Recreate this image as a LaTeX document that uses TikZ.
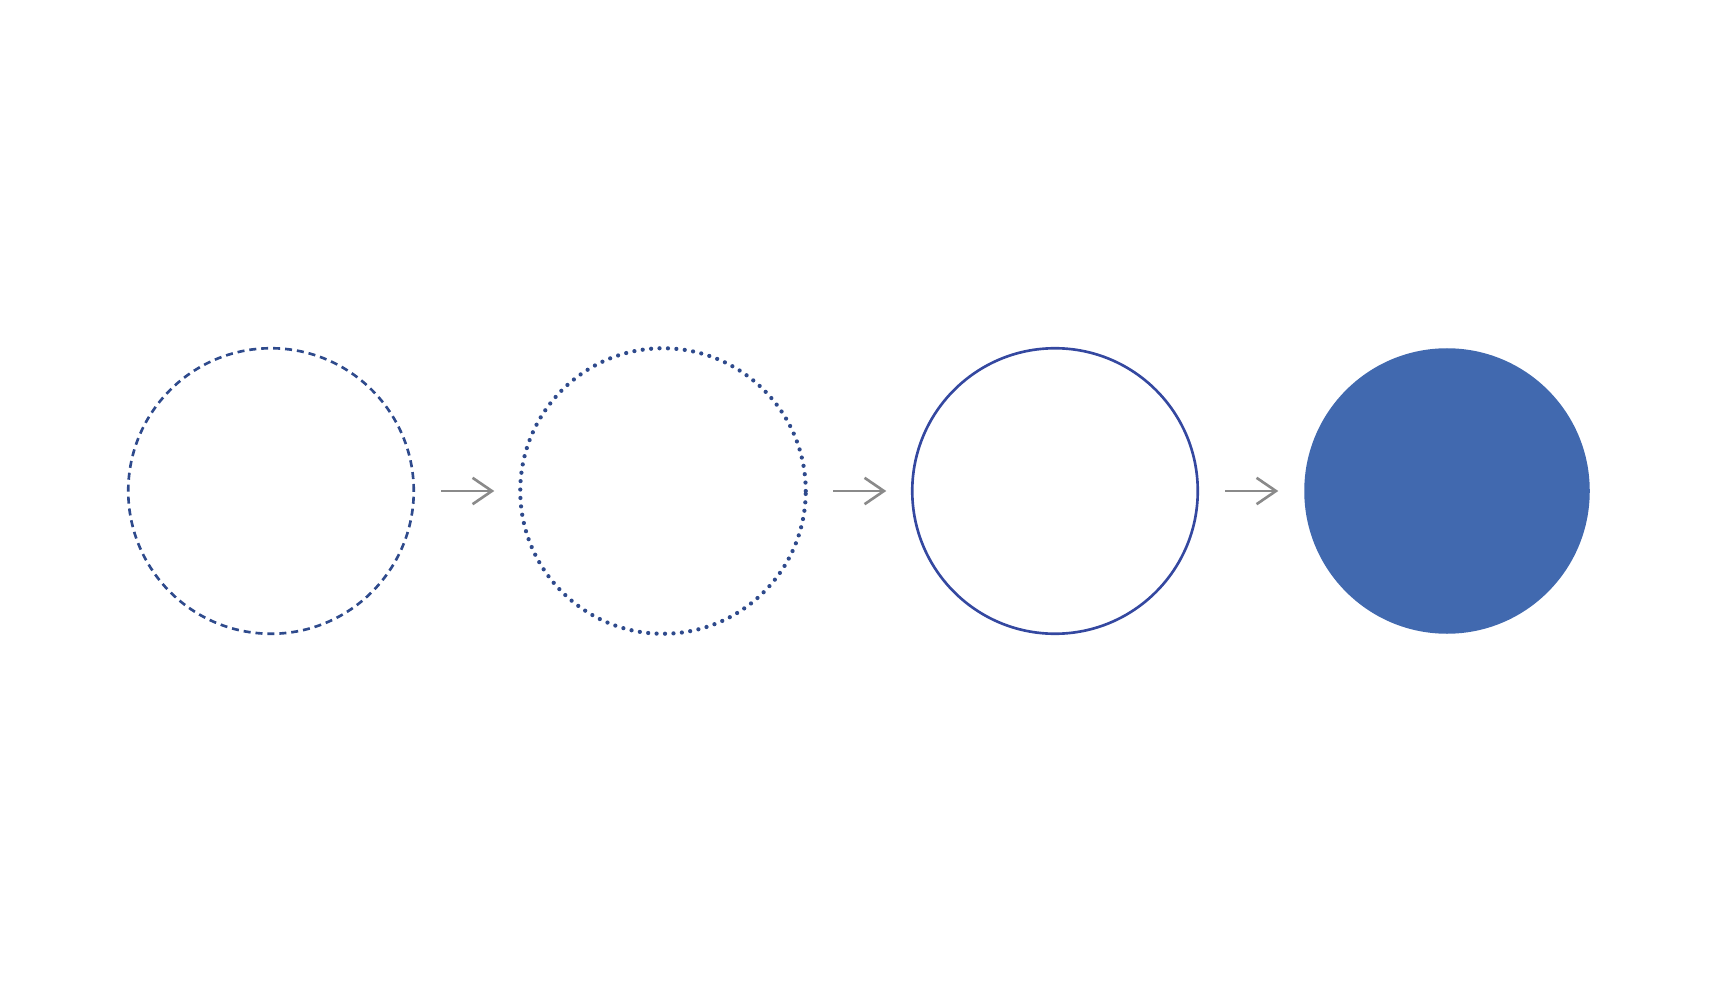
\documentclass[tikz,border=0pt]{standalone}
\usepackage{tikz}
\usepackage{xcolor}
\usetikzlibrary{arrows.meta,positioning}

\definecolor{ringblue}{HTML}{2E4A8C}
\definecolor{solidblue}{HTML}{3448A0}
\definecolor{fillblue}{HTML}{4169AF}
\definecolor{arrowgray}{HTML}{8A8A8A}

\begin{document}
\begin{tikzpicture}[
        stage/.style={circle, minimum size=5.71cm, inner sep=0pt, outer sep=0pt},
        line/.style={draw, arrowgray, line width=1.5pt,
                     -{Straight Barb[length=11pt, width=15pt, line width=1.5pt]},
                     shorten <=0.55cm, shorten >=0.52cm}
    ]
    \useasboundingbox (-5.42,-9.78) rectangle (28.88,9.82);

    \node [stage, draw=ringblue, line width=1.5pt, dash pattern=on 4pt off 2.8pt] (dashed) at (0,0) {};
    \node [stage, draw=ringblue, line width=2.4pt, line cap=round, dash pattern=on 0pt off 4.8pt, right=2.13cm of dashed] (dotted) {};
    \node [stage, draw=solidblue, line width=1.5pt, right=2.13cm of dotted] (solid) {};
    \node [stage, fill=fillblue, right=2.13cm of solid] (filled) {};

    \draw [line] (dashed) -- (dotted);
    \draw [line] (dotted) -- (solid);
    \draw [line] (solid) -- (filled);
\end{tikzpicture}
\end{document}
